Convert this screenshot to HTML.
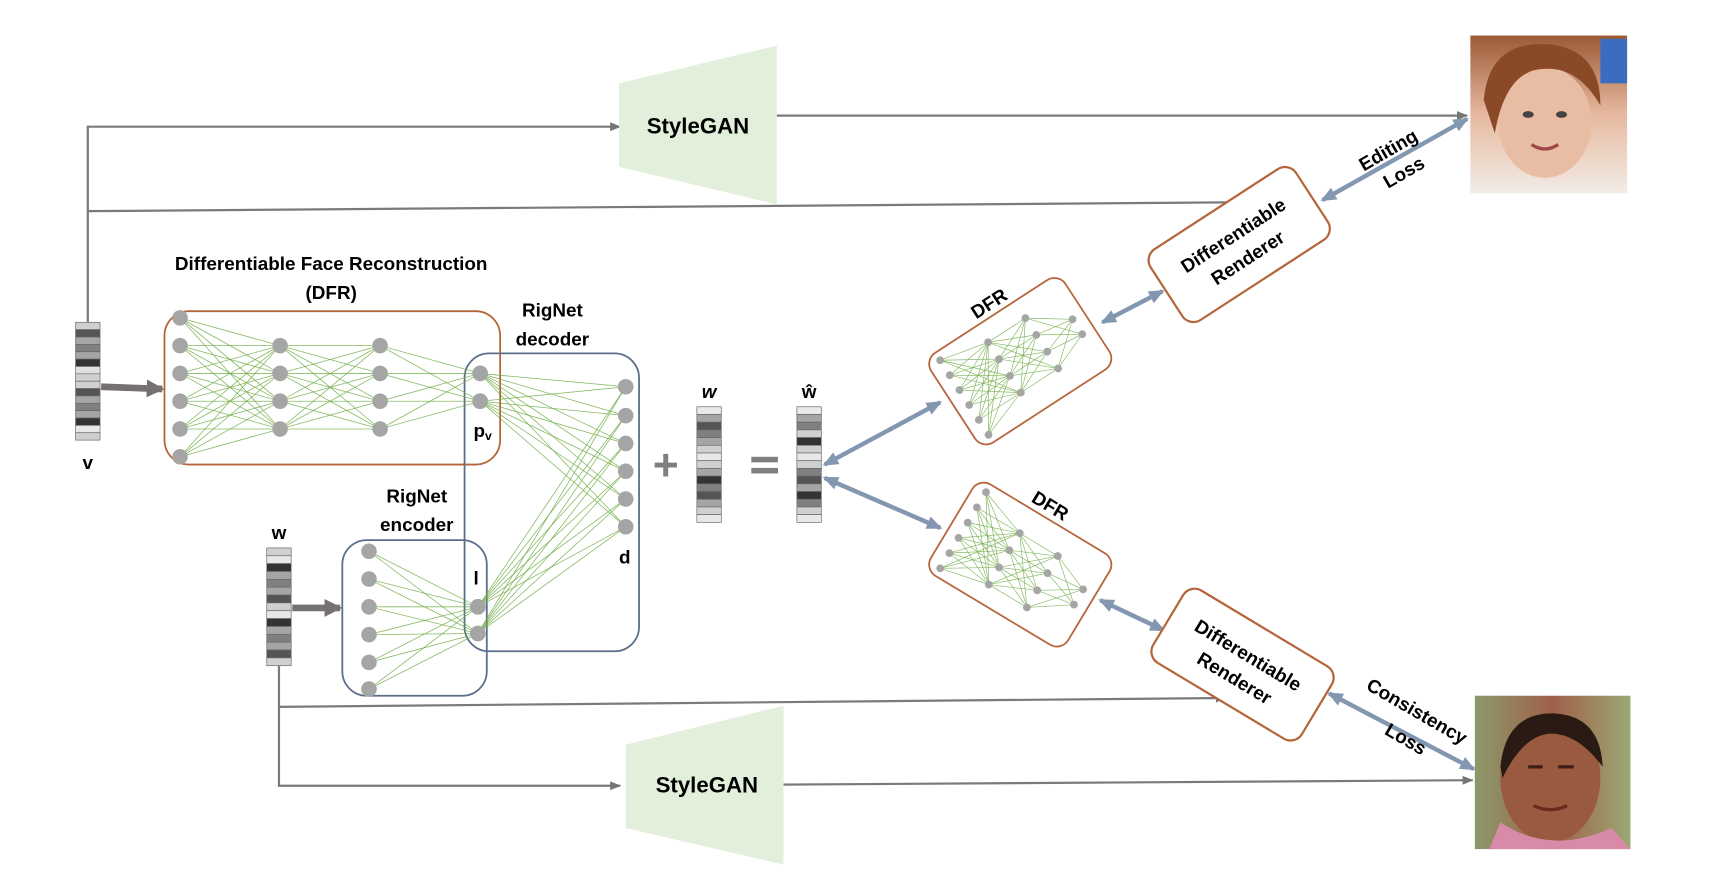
<!DOCTYPE html>
<html><head><meta charset="utf-8">
<style>
html,body{margin:0;padding:0;background:#fff;}
svg{display:block;}
text{font-family:"Liberation Sans",sans-serif;font-weight:bold;fill:#000;}
</style></head>
<body>
<svg id="s" width="1726" height="878" viewBox="0 0 1553 790" xmlns="http://www.w3.org/2000/svg">
<defs>
<marker id="ag" markerWidth="10" markerHeight="8" refX="9" refY="4" orient="auto" markerUnits="userSpaceOnUse"><path d="M0,0 L10,4 L0,8 Z" fill="#767676"/></marker>
<marker id="ab" markerWidth="14" markerHeight="12" refX="12" refY="6" orient="auto-start-reverse" markerUnits="userSpaceOnUse"><path d="M0,0 L14,6 L0,12 Z" fill="#8497b0"/></marker>
<marker id="at" markerWidth="16" markerHeight="16" refX="14" refY="8" orient="auto" markerUnits="userSpaceOnUse"><path d="M0,0 L16,8 L0,16 Z" fill="#767171"/></marker>
<linearGradient id="kid" x1="0" y1="0" x2="0" y2="1"><stop offset="0" stop-color="#9a5a36"/><stop offset="0.5" stop-color="#e7b9a0"/><stop offset="1" stop-color="#f2ece6"/></linearGradient>
<linearGradient id="man" x1="0" y1="0" x2="1" y2="0"><stop offset="0" stop-color="#8b9a6a"/><stop offset="0.5" stop-color="#a0604a"/><stop offset="1" stop-color="#9aa873"/></linearGradient>
</defs>

<!-- v connectors -->
<g fill="none" stroke="#7a7a7a" stroke-width="2">
<polyline points="79,290 79,114 558,114" marker-end="url(#ag)"/>
<polyline points="79,190 1118,182" marker-end="url(#ag)"/>
<line x1="686" y1="104" x2="1320" y2="104" marker-end="url(#ag)"/>
<polyline points="251,598 251,707 558,707" marker-end="url(#ag)"/>
<polyline points="251,636 1103,628" marker-end="url(#ag)"/>
<line x1="700" y1="706" x2="1325" y2="702" marker-end="url(#ag)"/>
</g>

<!-- StyleGAN trapezoids -->
<polygon points="557,75 699,41 699,184 557,150" fill="#e2efda"/>
<text x="628" y="120" font-size="20" text-anchor="middle">StyleGAN</text>
<polygon points="563,670 705,635 705,778 563,745" fill="#e2efda"/>
<text x="636" y="713" font-size="20" text-anchor="middle">StyleGAN</text>

<!-- images -->
<rect x="1323" y="32" width="141" height="142" fill="url(#kid)"/>
<ellipse cx="1390" cy="110" rx="42" ry="50" fill="#e9bca4"/>
<path d="M1335,90 Q1340,35 1395,40 Q1440,45 1440,95 Q1420,60 1390,62 Q1355,62 1345,120 Z" fill="#8a4a28"/>
<rect x="1440" y="35" width="24" height="40" fill="#3a6cc0"/>
<ellipse cx="1375" cy="103" rx="5" ry="3" fill="#444"/><ellipse cx="1405" cy="103" rx="5" ry="3" fill="#444"/>
<path d="M1378,130 Q1390,138 1402,130" stroke="#a04848" stroke-width="3" fill="none"/>
<rect x="1327" y="626" width="140" height="138" fill="url(#man)"/>
<ellipse cx="1395" cy="700" rx="45" ry="58" fill="#9a5a40"/>
<path d="M1350,690 Q1355,640 1400,642 Q1440,645 1442,690 Q1420,660 1395,660 Q1370,662 1352,700 Z" fill="#2a1a14"/>
<path d="M1340,764 L1350,740 Q1395,770 1450,745 L1467,764 Z" fill="#d88aa8"/>
<path d="M1375,690 L1388,690 M1402,690 L1416,690" stroke="#3a2018" stroke-width="3"/>
<path d="M1380,725 Q1395,732 1410,725" stroke="#6a2a20" stroke-width="3" fill="none"/>

<!-- loss arrows -->
<g stroke="#8497b0" stroke-width="4" fill="none">
<line x1="1190" y1="180" x2="1320" y2="107" marker-start="url(#ab)" marker-end="url(#ab)"/>
<line x1="1196" y1="624" x2="1326" y2="692" marker-start="url(#ab)" marker-end="url(#ab)"/>
<line x1="992" y1="290" x2="1046" y2="262" marker-start="url(#ab)" marker-end="url(#ab)"/>
<line x1="990" y1="540" x2="1047" y2="567" marker-start="url(#ab)" marker-end="url(#ab)"/>
<line x1="742" y1="418" x2="846" y2="362" marker-start="url(#ab)" marker-end="url(#ab)"/>
<line x1="742" y1="430" x2="846" y2="475" marker-start="url(#ab)" marker-end="url(#ab)"/>
</g>
<text transform="translate(1252,140) rotate(-30)" font-size="17" text-anchor="middle">Editing</text>
<text transform="translate(1266,160) rotate(-30)" font-size="17" text-anchor="middle">Loss</text>
<text transform="translate(1272,645) rotate(30)" font-size="17" text-anchor="middle">Consistency</text>
<text transform="translate(1262,670) rotate(30)" font-size="17" text-anchor="middle">Loss</text>

<!-- Differentiable renderers -->
<g transform="translate(1115,220) rotate(-33)">
<rect x="-78" y="-38" width="156" height="76" rx="12" fill="#fff" stroke="#b5653a" stroke-width="2"/>
<text y="-4" font-size="17" text-anchor="middle">Differentiable</text>
<text y="20" font-size="17" text-anchor="middle">Renderer</text>
</g>
<g transform="translate(1118,598) rotate(31)">
<rect x="-78" y="-38" width="156" height="76" rx="12" fill="#fff" stroke="#b5653a" stroke-width="2"/>
<text y="-4" font-size="17" text-anchor="middle">Differentiable</text>
<text y="20" font-size="17" text-anchor="middle">Renderer</text>
</g>

<!-- small DFRs -->
<g id="dfrA" transform="translate(918,325) rotate(-33)"></g>
<g id="dfrB" transform="translate(918,508) rotate(31)"></g>
<text transform="translate(893,278) rotate(-33)" font-size="17" text-anchor="middle">DFR</text>
<text transform="translate(942,460) rotate(31)" font-size="17" text-anchor="middle">DFR</text>

<!-- big network -->
<rect x="148" y="280" width="302" height="138" rx="22" fill="none" stroke="#b5653a" stroke-width="1.6"/>
<rect x="418" y="318" width="157" height="268" rx="22" fill="none" stroke="#5a6e8a" stroke-width="1.6"/>
<rect x="308" y="486" width="130" height="140" rx="22" fill="none" stroke="#5a6e8a" stroke-width="1.6"/>
<g id="net"></g>
<text x="298" y="243" font-size="17" text-anchor="middle">Differentiable Face Reconstruction</text>
<text x="298" y="269" font-size="17" text-anchor="middle">(DFR)</text>
<text x="497" y="285" font-size="17" text-anchor="middle">RigNet</text>
<text x="497" y="311" font-size="17" text-anchor="middle">decoder</text>
<text x="375" y="452" font-size="17" text-anchor="middle">RigNet</text>
<text x="375" y="478" font-size="17" text-anchor="middle">encoder</text>
<text x="426" y="393" font-size="17">p<tspan font-size="11" dy="3">v</tspan></text>
<text x="426" y="526" font-size="17">l</text>
<text x="557" y="507" font-size="17">d</text>

<!-- thick arrows -->
<line x1="91" y1="348" x2="146" y2="350" stroke="#767171" stroke-width="6" marker-end="url(#at)"/>
<line x1="263" y1="547" x2="306" y2="547" stroke="#767171" stroke-width="6" marker-end="url(#at)"/>

<!-- vectors -->
<g id="vecs"></g>
<text x="79" y="422" font-size="17" text-anchor="middle">v</text>
<text x="251" y="485" font-size="17" text-anchor="middle">w</text>
<text x="638" y="358" font-size="17" text-anchor="middle" font-style="italic">w</text>
<text x="728" y="358" font-size="17" text-anchor="middle">ŵ</text>
<text x="599" y="432" font-size="40" text-anchor="middle" style="fill:#7f7f7f">+</text>
<rect x="676" y="411" width="24" height="5" fill="#7f7f7f"/>
<rect x="676" y="421" width="24" height="5" fill="#7f7f7f"/>
</svg>
<script>
var NS="http://www.w3.org/2000/svg";
function el(p,t,a){var e=document.createElementNS(NS,t);for(var k in a)e.setAttribute(k,a[k]);p.appendChild(e);return e;}
function col(x,ys){return ys.map(function(y){return[x,y];});}
function net(g,layers,r,sw){
 for(var i=0;i<layers.length-1;i++)layers[i].forEach(function(a){layers[i+1].forEach(function(b){el(g,"line",{x1:a[0],y1:a[1],x2:b[0],y2:b[1],stroke:"#70ad47","stroke-width":sw,"stroke-opacity":0.85});});});
 layers.forEach(function(L){L.forEach(function(p){el(g,"circle",{cx:p[0],cy:p[1],r:r,fill:"#a5a5a5"});});});
}
var g=document.getElementById("net");
var c1=col(162,[286,311,336,361,386,411]),c2=col(252,[311,336,361,386]),c3=col(342,[311,336,361,386]),c4=col(432,[336,361]),d=col(563,[348,374,399,424,449,474]);
var e1=col(332,[496,521,546,571,596,620]),l=col(430,[546,570]);
net(g,[c1,c2,c3,c4],7,0.7);
net(g,[e1,l],7,0.7);
var gg=document.createElementNS(NS,"g");g.insertBefore(gg,g.firstChild);
net(gg,[c4.concat(l),d],7,0.7);
// small DFR
function small(id,flip){
 var g=document.getElementById(id);
 el(g,"rect",{x:-72,y:-48,width:144,height:96,rx:12,fill:"#fff",stroke:"#b5653a","stroke-width":1.6});
 var s=flip?-1:1;
 var L1=col(-60,[-40,-24,-8,8,24,40]),L2=col(-15,[-30,-12,6,24]),L3=col(25,[-30,-12,6,24]),L4=col(60,[-6,10]);
 var Ls=[L1,L2,L3,L4];
 if(flip)Ls=Ls.map(function(L){return L.map(function(p){return[p[0],-p[1]];});});
 net(g,Ls,3.5,0.6);
}
small("dfrA",false);small("dfrB",true);
// vectors
var V=document.getElementById("vecs");
var pats=[["#d0d0d0","#555","#a5a5a5","#808080","#a5a5a5","#333","#e0e0e0","#d0d0d0","#d0d0d0","#555","#a5a5a5","#808080","#a5a5a5","#333","#e8e8e8","#d0d0d0"],
["#d0d0d0","#e8e8e8","#333","#a5a5a5","#808080","#a5a5a5","#555","#d0d0d0","#e8e8e8","#333","#a5a5a5","#808080","#a5a5a5","#555","#d0d0d0"],
["#e8e8e8","#a5a5a5","#555","#808080","#a5a5a5","#d0d0d0","#e8e8e8","#d0d0d0","#a5a5a5","#333","#808080","#555","#a5a5a5","#d0d0d0","#e8e8e8"],
["#e8e8e8","#a5a5a5","#808080","#d0d0d0","#333","#d0d0d0","#e8e8e8","#d0d0d0","#808080","#555","#a5a5a5","#333","#808080","#d0d0d0","#e8e8e8"]];
function vec(x,y,h,p){var n=p.length,sh=h/n;p.forEach(function(c,i){el(V,"rect",{x:x,y:y+i*sh,width:22,height:sh,fill:c,stroke:"#666","stroke-width":0.6});});}
vec(68,290,106,pats[0]);vec(240,493,106,pats[1]);vec(627,366,104,pats[2]);vec(717,366,104,pats[3]);
</script>
</body></html>
